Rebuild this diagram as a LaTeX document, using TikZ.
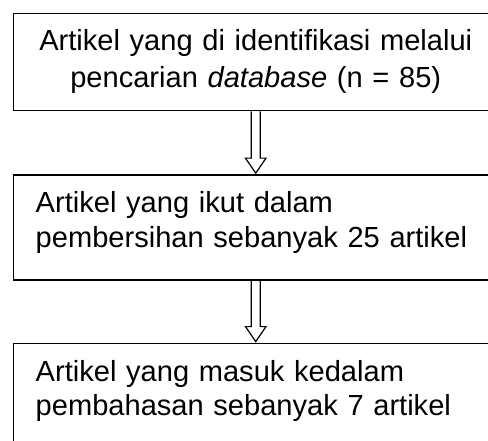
\documentclass[tikz,border=0pt]{standalone}
\usepackage{fontspec}
\setmainfont{Liberation Sans}
\usetikzlibrary{positioning,calc}

\begin{document}
\begin{tikzpicture}[
node distance=47pt,
stepbox/.style={draw, line width=1.1pt, inner xsep=16.5pt, inner ysep=2pt,
  text width=330pt, minimum height=78.75pt, align=left,
  font=\fontsize{21.8}{26}\selectfont},
firstbox/.style={stepbox, align=center, minimum height=72.75pt,
  font=\fontsize{21.8}{28.3}\selectfont},
hollowarrow/.style={draw, line width=0.9pt,
  to path={let \p1=(\tikztostart), \p2=(\tikztotarget) in
    (\x1-3.4pt,\y1) -- (\x1-3.4pt,\y2+12pt) -- (\x1-7.7pt,\y2+12pt)
    -- (\x1,\y2+0.75pt) -- (\x1+7.7pt,\y2+12pt) -- (\x1+3.4pt,\y2+12pt)
    -- (\x1+3.4pt,\y1)}}
]
\clip (0,0) rectangle (366pt,-330.75pt);
\useasboundingbox (0,0) rectangle (366pt,-330.75pt);

\node[firstbox, anchor=north west] (ident) at (9.75pt,-9.75pt)
  {Artikel yang di identifikasi melalui\\
   pencarian \textit{database} (n = 85)\rule[-5.8pt]{0pt}{0pt}};
\node[stepbox, below=of ident] (bersih)
  {Artikel yang ikut dalam\\
   pembersihan sebanyak 25 artikel\rule[-12pt]{0pt}{0pt}};
\node[stepbox, below=46.5pt of bersih] (bahas)
  {Artikel yang masuk kedalam\\
   pembahasan sebanyak 7 artikel\rule[-12pt]{0pt}{0pt}};

\path[hollowarrow] (ident.south) to (bersih.north);
\path[hollowarrow] (bersih.south) to (bahas.north);

\end{tikzpicture}
\end{document}
